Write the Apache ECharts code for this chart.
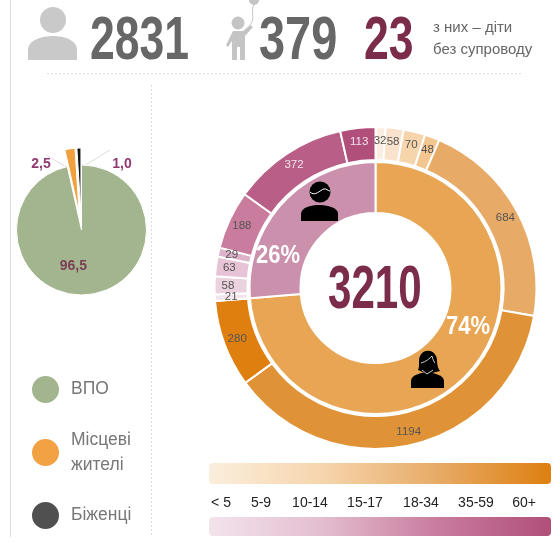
<!DOCTYPE html>
<html><head><meta charset="utf-8">
<style>html,body{margin:0;padding:0;background:#fff}#c{width:560px;height:542px}</style>
<script src="https://cdn.jsdelivr.net/npm/echarts@6/dist/echarts.min.js"></script>
</head><body><div id="c"></div>
<script>
const statusNames = ['ВПО', 'Місцеві\nжителі', 'Біженці'];
const statusValues = [96.5, 2.5, 1.0];
const statusColors = ['#a3b58e', '#f0a03e', '#111111'];
const legendColors = ['#a3b58e', '#f2a143', '#505050'];
const genderNames = ['Жінки', 'Чоловіки'];
const genderValues = [2366, 844];
const genderColors = ['#e8a553', '#cb90ac'];
const womenAges = [32, 58, 70, 48, 684, 1194, 280];
const menAges = [21, 58, 63, 29, 188, 372, 113];
const womenColors = ['#fbeee0', '#f9e3cc', '#f6d5ac', '#f2c68e', '#e7ab67', '#e09236', '#de7f10'];
const menColors = ['#f3e4ec', '#ebd2df', '#e6c4d5', '#dcb3c8', '#c97c9e', '#b95e86', '#b04f79'];
const ageLabels = ['< 5', '5-9', '10-14', '15-17', '18-34', '35-59', '60+'];
const ageLabelX = [221, 261, 310, 365, 421, 476, 524];
const headline = ['2831', '379', '23'];
const centerTotal = '3210';

const chart = echarts.init(document.getElementById('c'));
const sans = '"Liberation Sans",Arial,sans-serif';
const fmt = v => v.toFixed(1).replace('.', ',');
let shapeId = 0;
const pathEl = (d, style, z) => {
  const name = 'iconPath' + (shapeId++);
  echarts.graphic.registerShape(name, echarts.graphic.extendPath(d, {}));
  return {type:name, silent:true, z:z||1, style};
};
const bigNum = (t, x, fill, y, w) => ({type:'text', x, y, scaleX:w, silent:true, z:5, style:{
  text:t, font:'bold 61px '+sans, fill, textVerticalAlign:'middle', shadowBlur:4, shadowColor:'rgba(0,0,0,0.45)', shadowOffsetX:2, shadowOffsetY:2}});
const grad = (cols) => ({type:'linear', x:0, y:0, x2:1, y2:0, colorStops:cols.map((c,i)=>({offset:i/(cols.length-1), color:c}))});
const line = (x1,y1,x2,y2,dash) => ({type:'line', silent:true, shape:{x1,y1,x2,y2}, style:{stroke:'#dcdcdc', lineWidth:1, lineDash:dash}});
const ageData = womenAges.map((v,i)=>({value:v, itemStyle:{color:womenColors[i]}}))
  .concat(menAges.map((v,i)=>({value:v, itemStyle:{color:menColors[i]}, label:{show:i>0, color: i>=5 ? '#f3e4ec' : '#555'}})));
const grey = '#c9c9c9';
const smallLabel = (t, x) => ({type:'text', x, y:164, silent:true, style:{text:t, font:'bold 14px '+sans, fill:'#8f3a72', textAlign:'center', textVerticalAlign:'middle'}});
// The narrowest slice's label is placed from its share of the ring, since the pie drops it.
const ringCx = 375.5, ringCy = 288, ringMid = 144.5;
const ageTotal = womenAges.concat(menAges).reduce((a,b)=>a+b,0);
const before = womenAges.reduce((a,b)=>a+b,0);
const narrowAngle = (before + menAges[0]/2) / ageTotal * 2 * Math.PI;

chart.setOption({
  animation:false,
  legend:{orient:'vertical', left:30, top:374, padding:0, itemWidth:29, itemHeight:29, icon:'circle', itemGap:22.5, selectedMode:false,
    data:statusNames.map((n,i)=>({name:n, itemStyle:{color:legendColors[i]}})),
    textStyle:{fontFamily:sans, fontSize:17.5, color:'#777', lineHeight:25, padding:[0,0,0,6]}},
  series:[
    {type:'pie', center:[81.5,230], radius:[0,65], startAngle:90, selectedMode:'multiple', selectedOffset:17, silent:true,
     itemStyle:{borderColor:'#fff', borderWidth:1},
     data:statusNames.map((n,i)=>({name:n, value:statusValues[i], selected:i>0, itemStyle:{color:statusColors[i]},
       label: i===0 ? {show:true, position:'inside', offset:[-12,1], color:'#7b3f55'} : {show:false},
       labelLine:{show:false}})),
     label:{fontFamily:sans, fontSize:14, fontWeight:'bold', formatter:p=>fmt(p.value)}
    },
    {type:'pie', center:[ringCx,ringCy], radius:[75,126], startAngle:90, silent:true, z:2,
     itemStyle:{borderColor:'#fff', borderWidth:2}, label:{show:false}, labelLine:{show:false},
     data:genderNames.map((n,i)=>({name:n, value:genderValues[i], itemStyle:{color:genderColors[i]}}))},
    {type:'pie', center:[ringCx,ringCy], radius:[128,161], startAngle:90, silent:true, z:2, avoidLabelOverlap:false, minShowLabelAngle:0,
     itemStyle:{borderColor:'#fff', borderWidth:2}, labelLine:{show:false},
     label:{position:'inside', fontFamily:sans, fontSize:11.5, color:'#555', formatter:'{c}'},
     data:ageData}
  ],
  graphic:{elements:[
    line(10.5,0,10.5,537,null), line(151.5,85,151.5,537,[2,2]), line(47,73.5,522,73.5,[2,2]),
    line(66,167,46,155,null), line(84,166,110,150,null),
    smallLabel(fmt(statusValues[1]), 41), smallLabel(fmt(statusValues[2]), 122),
    {type:'text', silent:true, z:10, x:ringCx + ringMid*Math.sin(narrowAngle), y:ringCy - ringMid*Math.cos(narrowAngle),
     style:{text:String(menAges[0]), font:'11.5px '+sans, fill:'#555', textAlign:'center', textVerticalAlign:'middle'}},
    {type:'circle', silent:true, shape:{cx:53,cy:20,r:13}, style:{fill:grey}},
    pathEl('M28 60 L28 50 C28 40 42 36 53 36 C64 36 77 40 77 50 L77 60 Z', {fill:grey}),
    {type:'circle', silent:true, shape:{cx:238,cy:23,r:6.5}, style:{fill:'#c4c4c4'}},
    pathEl('M233 31 L243 31 L250 25 L253 27 L245 36 L245 60 L240 60 L240 47 L237 47 L237 60 L232 60 L232 41 L228 47 L226 45 Z', {fill:'#c4c4c4'}),
    pathEl('M250 25 C256 18 250 12 254 4', {fill:'none', stroke:'#c4c4c4', lineWidth:1}),
    {type:'circle', silent:true, shape:{cx:254,cy:0,r:5}, style:{fill:'#c4c4c4'}},
    bigNum(headline[0], 90, '#676767', 42, 0.73),
    bigNum(headline[1], 259, '#676767', 42, 0.77),
    bigNum(headline[2], 364, '#7b2c4a', 42, 0.73),
    {type:'text', x:433, y:28, silent:true, style:{text:'з них – діти', font:'15px '+sans, fill:'#666', textVerticalAlign:'middle'}},
    {type:'text', x:433, y:50, silent:true, style:{text:'без супроводу', font:'15px '+sans, fill:'#666', textVerticalAlign:'middle'}},
    bigNum(centerTotal, 328, '#7b2c4a', 291, 0.69),
    {type:'text', x:278, y:256, scaleX:0.88, silent:true, z:10, style:{text:'26%', font:'bold 25px '+sans, fill:'#fff', textAlign:'center', textVerticalAlign:'middle'}},
    {type:'text', x:468, y:327, scaleX:0.88, silent:true, z:10, style:{text:'74%', font:'bold 25px '+sans, fill:'#fff', textAlign:'center', textVerticalAlign:'middle'}},
    pathEl('M301 221 L301 214 C301 207 312 205 319 205 C326 205 338 207 338 214 L338 221 Z', {fill:'#000'}, 10),
    {type:'circle', silent:true, z:10, shape:{cx:320,cy:192,r:10.5}, style:{fill:'#000'}},
    pathEl('M310 192 C315 197 320 190 324 189 C326 188 328 191 330 191', {fill:'none', stroke:'#fff', lineWidth:1}, 10),
    pathEl('M411 388 L411 381 C411 375 420 373 427 372 C434 373 444 375 444 381 L444 388 Z', {fill:'#000'}, 10),
    pathEl('M418 370 C420 366 418 360 420 356 C423 349 433 349 436 356 C438 360 436 366 440 371 L432 373 L425 373 Z', {fill:'#000'}, 10),
    pathEl('M421 363 C426 362 430 358 432 356 C433 360 434 362 435 363 M422 370 L427 374 L433 370', {fill:'none', stroke:'#fff', lineWidth:0.8}, 11),
    {type:'rect', silent:true, shape:{x:209,y:463,width:342,height:21,r:4}, style:{fill:grad(['#fbeedd','#f6d5ac','#e7ab67','#de7f10'])}},
    {type:'rect', silent:true, shape:{x:209,y:517,width:342,height:19,r:4}, style:{fill:grad(['#f3e4ec','#e3bdd0','#c97c9e','#b04f79'])}},
    ...ageLabels.map((t,i)=>({type:'text', x:ageLabelX[i], y:503, silent:true, style:{text:t, font:'14px '+sans, fill:'#222', textAlign:'center', textVerticalAlign:'middle'}}))
  ]}
});
</script></body></html>
